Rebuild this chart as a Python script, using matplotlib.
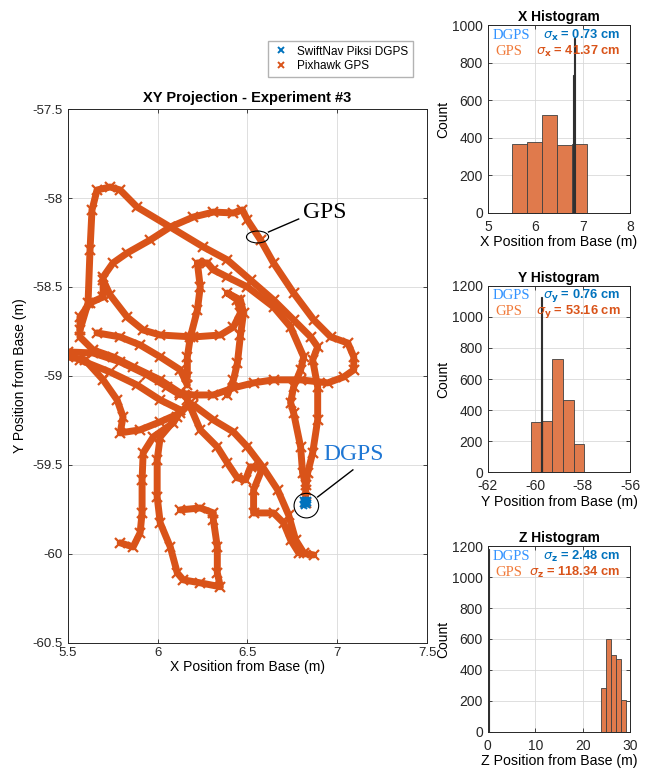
import matplotlib
matplotlib.use("Agg")
import matplotlib.pyplot as plt
import numpy as np
from matplotlib.lines import Line2D
from matplotlib.patches import Ellipse
from matplotlib.ticker import FormatStrFormatter

plt.rcParams['font.family'] = ['Liberation Sans', 'DejaVu Sans']

BLUE = '#0072BD'
ORANGE = '#D95319'
BAR = '#E07A4C'

# ---- Pixhawk GPS track (metres from base) ----
gps_strokes = {
    'outer_loop': (
        [5.567, 5.612, 5.623, 5.634, 5.662, 5.735, 5.791, 5.885, 6.070, 6.254, 6.388, 6.517,
         6.645, 6.757, 6.852, 6.891, 6.863, 6.891, 6.891, 6.863, 6.835, 6.824, 6.824],
        [-58.742, -58.590, -58.292, -58.067, -57.955, -57.938, -57.955, -58.051, -58.163,
         -58.275, -58.348, -58.461, -58.573, -58.685, -58.781, -58.837, -58.910, -59.062,
         -59.247, -59.433, -59.545, -59.640, -59.713]),
    'upper_arc': (
        [5.696, 5.696, 5.751, 5.830, 5.958, 6.070, 6.198, 6.310, 6.422, 6.472, 6.500, 6.573,
         6.645, 6.757, 6.869, 6.964, 7.059, 7.092, 7.092, 7.036, 6.947, 6.796, 6.645, 6.534,
         6.422, 6.310, 6.198, 6.126],
        [-58.556, -58.444, -58.365, -58.309, -58.236, -58.163, -58.107, -58.079, -58.084,
         -58.067, -58.124, -58.236, -58.365, -58.534, -58.685, -58.781, -58.815, -58.893,
         -58.966, -59.006, -59.039, -59.022, -59.022, -59.039, -59.067, -59.107, -59.107,
         -59.096]),
    'lambda': (
        [6.165, 6.165, 6.182, 6.221, 6.237, 6.221, 6.277, 6.310, 6.388, 6.500, 6.645, 6.740,
         6.813, 6.796, 6.757, 6.740, 6.757, 6.796, 6.807, 6.824],
        [-59.006, -58.893, -58.781, -58.629, -58.500, -58.365, -58.365, -58.404, -58.444,
         -58.500, -58.612, -58.725, -58.893, -58.966, -59.062, -59.150, -59.208, -59.399,
         -59.545, -59.612]),
    'inner_loop': (
        [5.696, 5.735, 5.830, 5.919, 6.014, 6.198, 6.349, 6.422, 6.461, 6.444, 6.388, 6.461,
         6.478, 6.461, 6.444, 6.422, 6.388],
        [-58.461, -58.545, -58.669, -58.742, -58.770, -58.781, -58.770, -58.725, -58.646,
         -58.573, -58.534, -58.573, -58.646, -58.770, -58.927, -59.022, -59.107]),
    'step_branch': (
        [6.165, 6.237, 6.332, 6.388, 6.444, 6.489, 6.517, 6.584, 6.534, 6.534, 6.645, 6.701,
         6.740, 6.785, 6.869],
        [-59.135, -59.303, -59.399, -59.489, -59.573, -59.584, -59.511, -59.517, -59.640,
         -59.770, -59.770, -59.826, -59.921, -59.994, -60.006]),
    'long_branch': (
        [6.198, 6.310, 6.422, 6.500, 6.584, 6.668, 6.729, 6.768, 6.813],
        [-59.163, -59.247, -59.315, -59.399, -59.511, -59.640, -59.781, -59.921, -59.994]),
    'left_fan': (
        [5.500, 5.595, 5.696, 5.774, 5.807, 5.791, 5.902, 6.014, 6.126, 6.182],
        [-58.893, -58.910, -59.022, -59.135, -59.230, -59.320, -59.303, -59.258, -59.208,
         -59.152]),
    'left_fan2': (
        [5.500, 5.640, 5.791, 5.941, 6.053, 6.126],
        [-58.865, -58.871, -58.921, -58.994, -59.062, -59.107]),
    'left_fan3': (
        [5.567, 5.735, 5.885, 6.014, 6.126],
        [-58.910, -58.978, -59.051, -59.135, -59.191]),
    'left_cluster': (
        [5.696, 5.623, 5.567, 5.567, 5.640, 5.751, 5.863, 6.014, 6.126],
        [-58.556, -58.590, -58.669, -58.781, -58.854, -58.893, -58.949, -59.022, -59.096]),
    'left_cluster2': (
        [5.662, 5.791, 5.902, 6.014, 6.126, 6.165],
        [-58.758, -58.781, -58.826, -58.893, -58.966, -59.051]),
    'left_hook': (
        [6.126, 6.087, 5.975, 5.919, 5.913, 5.913, 5.902, 5.863, 5.791],
        [-59.191, -59.264, -59.343, -59.433, -59.584, -59.770, -59.882, -59.961, -59.938]),
    'g_hook': (
        [6.109, 6.014, 5.997, 5.997, 6.014, 6.070, 6.109, 6.142, 6.237, 6.349, 6.332, 6.332,
         6.310, 6.310, 6.237, 6.126],
        [-59.230, -59.343, -59.472, -59.680, -59.826, -59.961, -60.107, -60.146, -60.163,
         -60.185, -60.107, -59.961, -59.809, -59.770, -59.742, -59.753]),
}

# ---- SwiftNav Piksi DGPS (tight cluster) ----
dgps_x = [6.810, 6.815, 6.820, 6.825, 6.830, 6.835, 6.820, 6.830, 6.815, 6.825, 6.835, 6.812]
dgps_y = [-59.700, -59.710, -59.695, -59.700, -59.705, -59.715, -59.720, -59.725, -59.730,
          -59.715, -59.700, -59.720]

# ---- histograms ----
gps_x_edges = [5.506, 5.822, 6.138, 6.455, 6.771, 7.087]
gps_x_counts = [369, 375, 524, 360, 366]
dgps_x_pos = [6.806, 6.827]
dgps_x_counts = [735, 935]

gps_y_edges = [-60.188, -59.725, -59.275, -58.840, -58.376, -57.927]
gps_y_counts = [321, 332, 729, 467, 184]
dgps_y_pos = [-59.739, -59.72]
dgps_y_counts = [1129, 658]

gps_z_edges = [23.89, 24.94, 25.93, 26.98, 27.97, 29.02]
gps_z_counts = [282, 598, 495, 473, 206]
dgps_z_pos = [0.15]
dgps_z_counts = [1180]

fig = plt.figure(figsize=(6.47, 7.68), dpi=100)


def matlab_axes(ax):
    for s in ax.spines.values():
        s.set_color('#262626')
        s.set_linewidth(0.7)
    ax.tick_params(direction='in', top=True, right=True, length=3, width=0.6,
                   colors='#262626')
    ax.tick_params(axis='x', pad=5)
    ax.grid(True, color='#d9d9d9', linewidth=0.6)
    ax.set_axisbelow(True)


# main XY projection
ax = fig.add_axes([0.105, 0.163, 0.555, 0.695])
for name, (xs, ys) in gps_strokes.items():
    ax.plot(xs, ys, color=ORANGE, lw=5.0, solid_capstyle='round', solid_joinstyle='round',
            marker='x', ms=7, mew=1.6, zorder=2)
ax.plot(dgps_x, dgps_y, ls='none', marker='x', color=BLUE, ms=4, mew=1.4, zorder=3)
ax.set_xlim(5.5, 7.5)
ax.set_ylim(-60.5, -57.5)
ax.set_xticks(np.arange(5.5, 7.51, 0.5))
ax.set_yticks(np.arange(-60.5, -57.49, 0.5))
ax.xaxis.set_major_formatter(FormatStrFormatter('%g'))
ax.yaxis.set_major_formatter(FormatStrFormatter('%g'))
matlab_axes(ax)
ax.tick_params(labelsize=9.5)
ax.tick_params(axis='x', pad=3)
ax.set_title('XY Projection - Experiment #3', fontsize=10.5, fontweight='bold', pad=5)
ax.set_xlabel('X Position from Base (m)', fontsize=10, labelpad=1)
ax.set_ylabel('Y Position from Base (m)', fontsize=10, labelpad=4)

# annotations
ax.add_patch(Ellipse((6.556, -58.219), 0.123, 0.067, fill=False, ec='black', lw=0.8, zorder=4))
ax.plot([6.617, 6.785], [-58.191, -58.118], color='black', lw=1, zorder=4)
ax.text(6.81, -58.079, 'GPS', fontsize=17, family='Liberation Serif', va='center', ha='left')
ax.add_patch(Ellipse((6.828, -59.729), 0.137, 0.138, fill=False, ec='black', lw=0.8, zorder=4))
ax.plot([6.891, 7.087], [-59.680, -59.528], color='black', lw=1, zorder=4)
ax.text(6.92, -59.444, 'DGPS', fontsize=17, family='Liberation Serif', color='#1f77d4',
        va='center', ha='left')

legend_handles = [Line2D([], [], ls='none', marker='x', color=BLUE, ms=4, mew=1.4),
                  Line2D([], [], ls='none', marker='x', color=ORANGE, ms=4, mew=1.4)]
fig.legend(legend_handles, ['SwiftNav Piksi DGPS', 'Pixhawk GPS'], loc='upper left',
           bbox_to_anchor=(262 / 647, 1 - 35 / 768), fontsize=8.5, frameon=True,
           fancybox=False, edgecolor='#a0a0a0', borderpad=0.4, labelspacing=0.2,
           handlelength=1.5, handletextpad=0.6)


def hist_panel(rect, edges, counts, dpos, dcounts, dwidth, xlim, ylim, xticks, yticks,
               title, xlabel, sub, s_dgps, s_gps):
    h = fig.add_axes(rect)
    edges = np.asarray(edges)
    h.bar(edges[:-1], counts, width=np.diff(edges), align='edge', color=BAR,
          edgecolor='#404040', linewidth=0.6, zorder=2)
    h.bar(dpos, dcounts, width=dwidth, color=BLUE, edgecolor='#303030', linewidth=0.8,
          zorder=3)
    h.set_xlim(*xlim)
    h.set_ylim(*ylim)
    h.set_xticks(xticks)
    h.set_yticks(yticks)
    h.xaxis.set_major_formatter(FormatStrFormatter('%g'))
    matlab_axes(h)
    h.tick_params(labelsize=10)
    h.set_title(title, fontsize=10, fontweight='bold', pad=3)
    h.set_xlabel(xlabel, fontsize=10.2, labelpad=1)
    h.set_ylabel('Count', fontsize=10, labelpad=1)
    h.text(0.035, 0.945, 'DGPS', transform=h.transAxes, fontsize=10.5,
           family='Liberation Serif', color='#3393ff', va='center', ha='left')
    h.text(0.05, 0.86, 'GPS', transform=h.transAxes, fontsize=10.5,
           family='Liberation Serif', color='#f07a3a', va='center', ha='left')
    h.text(0.93, 0.945, r'$\sigma_{\mathbf{%s}}$ = %s cm' % (sub, s_dgps), transform=h.transAxes,
           fontsize=9.3, fontweight='bold', color=BLUE, va='center', ha='right')
    h.text(0.93, 0.86, r'$\sigma_{\mathbf{%s}}$ = %s cm' % (sub, s_gps), transform=h.transAxes,
           fontsize=9.3, fontweight='bold', color=ORANGE, va='center', ha='right')
    return h


hist_panel([0.754, 0.723, 0.220, 0.244], gps_x_edges, gps_x_counts, dgps_x_pos, dgps_x_counts,
           0.006, (5, 8), (0, 1000), [5, 6, 7, 8], np.arange(0, 1001, 200),
           'X Histogram', 'X Position from Base (m)', 'x', '0.73', '41.37')
hist_panel([0.754, 0.385, 0.220, 0.243], gps_y_edges, gps_y_counts, dgps_y_pos, dgps_y_counts,
           0.012, (-62, -56), (0, 1200), [-62, -60, -58, -56], np.arange(0, 1201, 200),
           'Y Histogram', 'Y Position from Base (m)', 'y', '0.76', '53.16')
hist_panel([0.754, 0.047, 0.220, 0.242], gps_z_edges, gps_z_counts, dgps_z_pos, dgps_z_counts,
           0.08, (0, 30), (0, 1200), [0, 10, 20, 30], np.arange(0, 1201, 200),
           'Z Histogram', 'Z Position from Base (m)', 'z', '2.48', '118.34')

fig.savefig('out.png', dpi=100)
